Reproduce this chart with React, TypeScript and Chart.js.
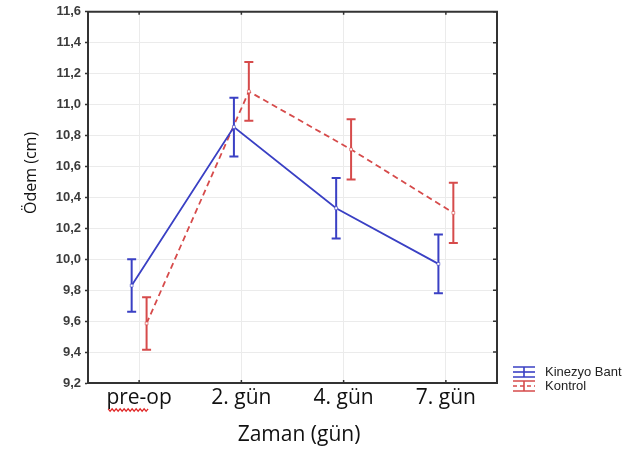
import React, { useEffect, useRef } from 'react';
import { Chart, registerables } from 'chart.js';

Chart.register(...registerables);

const categories = ['pre-op', '2. gün', '4. gün', '7. gün'];
const seriesLabels = ['Kinezyo Bant', 'Kontrol'];
const kinezyoMeans = [9.83, 10.855, 10.33, 9.97];
const kinezyoErrors = [0.17, 0.19, 0.195, 0.19];
const kontrolMeans = [9.585, 11.085, 10.71, 10.3];
const kontrolErrors = [0.17, 0.19, 0.195, 0.195];
const yMin = 9.2;
const yMax = 11.6;
const yStep = 0.2;
const xTitle = 'Zaman (gün)';
const yTitle = 'Ödem (cm)';

const BLUE = '#3a40c4';
const RED = '#d64b4b';
const GROUP_OFFSET = 0.073;
const FRAME = '#333333';

const errorBarPlugin = {
  id: 'errorBars',
  beforeDatasetsDraw(chart: any) {
    const ctx = chart.ctx;
    const xs = chart.scales.x;
    const ys = chart.scales.y;
    chart.data.datasets.forEach((ds: any) => {
      const errs: number[] = ds.errors;
      ctx.save();
      ctx.strokeStyle = ds.borderColor;
      ctx.lineWidth = 2;
      ctx.setLineDash([]);
      ds.data.forEach((p: any, i: number) => {
        const x = xs.getPixelForValue(p.x);
        const yT = ys.getPixelForValue(p.y + errs[i]);
        const yB = ys.getPixelForValue(p.y - errs[i]);
        ctx.beginPath();
        ctx.moveTo(x, yT);
        ctx.lineTo(x, yB);
        ctx.moveTo(x - 4.5, yT);
        ctx.lineTo(x + 4.5, yT);
        ctx.moveTo(x - 4.5, yB);
        ctx.lineTo(x + 4.5, yB);
        ctx.stroke();
      });
      ctx.restore();
    });
  },
};

const decorPlugin = {
  id: 'decor',
  afterDraw(chart: any) {
    const ctx = chart.ctx;
    const { left, right, top, bottom } = chart.chartArea;
    const xs = chart.scales.x;
    const ys = chart.scales.y;
    ctx.save();
    // top and right frame
    ctx.strokeStyle = FRAME;
    ctx.lineWidth = 2;
    ctx.beginPath();
    ctx.moveTo(left - 1, top);
    ctx.lineTo(right, top);
    ctx.lineTo(right, bottom + 1);
    ctx.stroke();
    // inward tick marks
    ctx.lineWidth = 1.5;
    ctx.beginPath();
    xs.ticks.forEach((t: any) => {
      const x = xs.getPixelForValue(t.value);
      ctx.moveTo(x, top);
      ctx.lineTo(x, top + 3);
      ctx.moveTo(x, bottom);
      ctx.lineTo(x, bottom - 3);
    });
    ys.ticks.forEach((t: any) => {
      const y = ys.getPixelForValue(t.value);
      ctx.moveTo(right, y);
      ctx.lineTo(right - 4, y);
    });
    ctx.stroke();

    // axis titles
    ctx.fillStyle = '#111111';
    ctx.font = '21px "Open Sans"';
    ctx.textAlign = 'center';
    ctx.textBaseline = 'alphabetic';
    ctx.fillText(xTitle, (left + right) / 2 + 6.5, bottom + 58);

    ctx.save();
    ctx.translate(left - 52, (top + bottom) / 2 - 24.5);
    ctx.rotate(-Math.PI / 2);
    ctx.font = '16px "Open Sans"';
    ctx.fillText(yTitle, 0, 0);
    ctx.restore();

    // spell-check squiggle under the first category label
    const x0 = xs.getPixelForValue(0);
    ctx.strokeStyle = '#e02828';
    ctx.lineWidth = 1.2;
    ctx.beginPath();
    const sy = bottom + 27;
    for (let k = 0; k <= 20; k++) {
      const px = x0 - 31 + k * 2;
      const py = sy + (k % 2 === 0 ? -1.2 : 1.2);
      if (k === 0) ctx.moveTo(px, py);
      else ctx.lineTo(px, py);
    }
    ctx.stroke();

    // legend
    const lx = right + 16;
    const lw = 22;
    chart.data.datasets.forEach((ds: any, i: number) => {
      const y0 = bottom - 16 + i * 14;
      ctx.strokeStyle = ds.borderColor;
      ctx.lineWidth = 1.6;
      ctx.setLineDash([]);
      ctx.beginPath();
      ctx.moveTo(lx, y0);
      ctx.lineTo(lx + lw, y0);
      ctx.moveTo(lx, y0 + 10);
      ctx.lineTo(lx + lw, y0 + 10);
      ctx.moveTo(lx + lw / 2, y0);
      ctx.lineTo(lx + lw / 2, y0 + 10);
      ctx.stroke();
      ctx.setLineDash(ds.borderDash && ds.borderDash.length ? [4, 3] : []);
      ctx.beginPath();
      ctx.moveTo(lx, y0 + 5);
      ctx.lineTo(lx + lw, y0 + 5);
      ctx.stroke();
      ctx.setLineDash([]);
      ctx.fillStyle = '#222';
      ctx.font = '13px "Liberation Sans"';
      ctx.textAlign = 'left';
      ctx.textBaseline = 'middle';
      ctx.fillText(ds.label, lx + 32, y0 + 5);
    });
    ctx.restore();
  },
};

export default function App() {
  const ref = useRef<HTMLCanvasElement | null>(null);

  useEffect(() => {
    if (!ref.current) return;
    const chart = new Chart(ref.current, {
      type: 'line',
      data: {
        datasets: [
          {
            label: seriesLabels[0],
            data: kinezyoMeans.map((v, i) => ({ x: i - GROUP_OFFSET, y: v })),
            errors: kinezyoErrors,
            borderColor: BLUE,
            borderWidth: 1.8,
            pointStyle: 'rect',
            pointRadius: 2,
            pointBackgroundColor: '#ffffff',
            pointBorderColor: BLUE,
            pointBorderWidth: 0.6,
            fill: false,
            tension: 0,
          } as any,
          {
            label: seriesLabels[1],
            data: kontrolMeans.map((v, i) => ({ x: i + GROUP_OFFSET, y: v })),
            errors: kontrolErrors,
            borderColor: RED,
            borderWidth: 1.8,
            borderDash: [6, 4],
            pointStyle: 'rect',
            pointRadius: 2,
            pointBackgroundColor: '#ffffff',
            pointBorderColor: RED,
            pointBorderWidth: 0.6,
            fill: false,
            tension: 0,
          } as any,
        ],
      },
      options: {
        responsive: false,
        animation: false,
        devicePixelRatio: 1,
        layout: { padding: { left: 0, top: 9, right: 133, bottom: 0 } },
        plugins: {
          legend: { display: false },
          tooltip: { enabled: false },
        },
        scales: {
          x: {
            type: 'linear',
            min: -0.5,
            max: categories.length - 0.5,
            afterBuildTicks: (s: any) => {
              s.ticks = categories.map((_, i) => ({ value: i }));
            },
            afterFit: (s: any) => {
              s.height = 69;
            },
            ticks: {
              callback: (v: any) => categories[Math.round(Number(v))] ?? '',
              font: { family: '"Open Sans"', size: 21 },
              color: '#111111',
              padding: 2,
              maxRotation: 0,
              autoSkip: false,
            },
            grid: { color: '#ebebeb', lineWidth: 1, drawTicks: false },
            border: { color: FRAME, width: 2 },
          },
          y: {
            type: 'linear',
            min: yMin,
            max: yMax,
            afterFit: (s: any) => {
              s.width = 88;
            },
            ticks: {
              stepSize: yStep,
              callback: (v: any) => Number(v).toFixed(1).replace('.', ','),
              font: { family: '"Liberation Sans"', size: 13, weight: 'bold' },
              color: '#3c3c3c',
              padding: 4,
            },
            grid: { color: '#ebebeb', lineWidth: 1, drawTicks: true, tickLength: 3, tickColor: FRAME, tickWidth: 1.5 },
            border: { color: FRAME, width: 2 },
          },
        },
      } as any,
      plugins: [errorBarPlugin, decorPlugin],
    });
    return () => chart.destroy();
  }, []);

  return (
    <div style={{ position: 'absolute', left: 0, top: 0, width: 630, height: 452, background: '#fff' }}>
      <canvas ref={ref} width={630} height={452} style={{ display: 'block' }} />
    </div>
  );
}
